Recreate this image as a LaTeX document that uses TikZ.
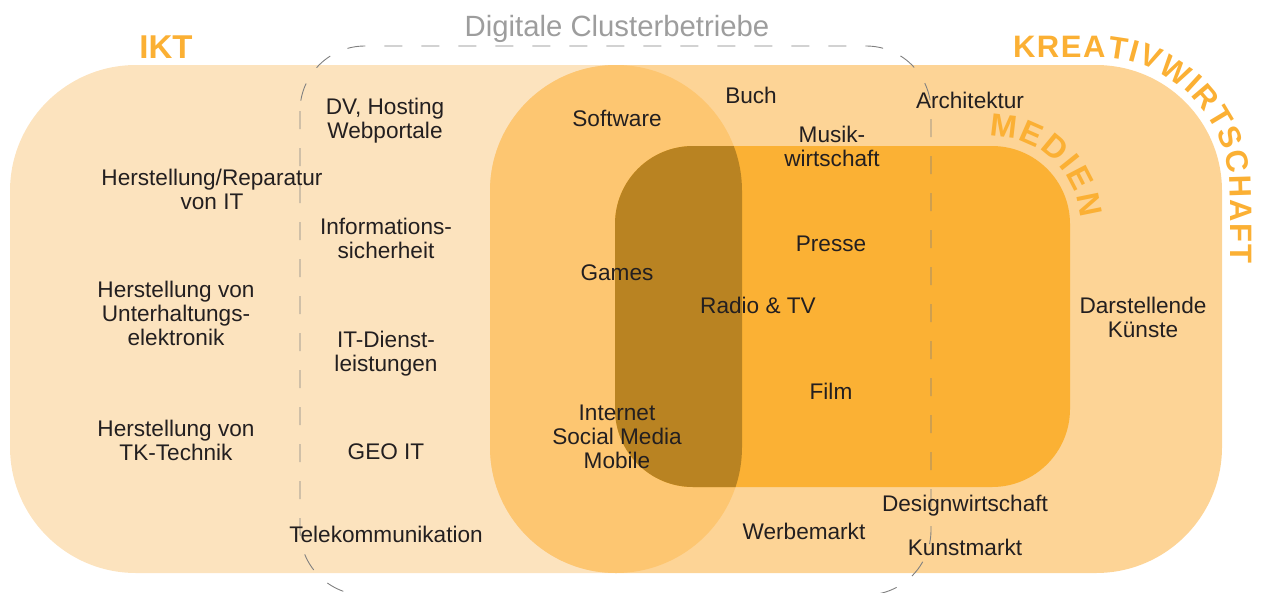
\documentclass[tikz,border=0pt]{standalone}
\usepackage{fontspec}
\setmainfont{Liberation Sans}
\usetikzlibrary{decorations.text}
\definecolor{iktc}{HTML}{FCE3BE}
\definecolor{krc}{HTML}{FDD496}
\definecolor{ovc}{HTML}{FDC671}
\definecolor{medc}{HTML}{FBB134}
\definecolor{darkc}{HTML}{B98322}
\definecolor{orc}{HTML}{FBB034}
\definecolor{dashc}{HTML}{808080}
\definecolor{titc}{HTML}{9D9D9D}
\definecolor{txtc}{HTML}{231F20}
\begin{document}
\begin{tikzpicture}[x=1pt,y=-1pt,
  lbl/.style={font=\fontsize{22.6}{24}\selectfont, text=txtc, align=center, inner sep=0pt},
  head/.style={font=\bfseries\fontsize{33}{33}\selectfont, text=orc, inner sep=0pt},
  clusterline/.style={draw=dashc, line width=0.9pt, dash pattern=on 18pt off 19pt}]
\useasboundingbox (0,0) rectangle (1261,592);
% regions
\fill[iktc, rounded corners=126pt] (10,65) rectangle (742,573);
\fill[krc, rounded corners=126pt] (490,65) rectangle (1222,573);
\fill[ovc] (490,191) -- (490,447) arc[start angle=180,end angle=0,radius=126]
  -- (742,191) arc[start angle=360,end angle=180,radius=126] -- cycle;
\fill[medc, rounded corners=78pt] (615,146) rectangle (1070,487);
\begin{scope}
  \clip (490,191) -- (490,447) arc[start angle=180,end angle=0,radius=126]
    -- (742,191) arc[start angle=360,end angle=180,radius=126] -- cycle;
  \fill[darkc, rounded corners=78pt] (615,146) rectangle (1070,487);
\end{scope}
% digital cluster outline
\draw[clusterline, rounded corners=65pt] (300,46) rectangle (931,595);
\node[font=\fontsize{29.3}{30}\selectfont, text=titc, anchor=base, inner sep=0pt] (title) at (617,36) {Digitale Clusterbetriebe};
% headings
\node[head] (ikt) at (166,47) {IKT};
\path[decorate, decoration={text along path, text color=orc, text align=fit to path,
  text={|\bfseries\fontsize{31}{31}\selectfont|KREATIVWIRTSCHAFT}}]
  (1013,57) -- (1096,57) arc[start angle=270,end angle=360,radius=134] -- (1230,263);
\path[decorate, decoration={text along path, text color=orc, text align=fit to path,
  text={|\bfseries\fontsize{32}{32}\selectfont|MEDIEN}}]
  (989,136) arc[start angle=268,end angle=356,radius=88];
% IKT labels
\node[lbl] (herit) at (212,189) {Herstellung/Reparatur\\von IT};
\node[lbl] (herue) at (176,313) {Herstellung von\\Unterhaltungs-\\elektronik};
\node[lbl] (hertk) at (176,440) {Herstellung von\\TK-Technik};
% cluster labels
\node[lbl] (dv) at (385,121) {DV, Hosting\\Webportale};
\node[lbl] (info) at (386,238) {Informations-\\sicherheit};
\node[lbl] (itd) at (386,354) {IT-Dienst-\\leistungen};
\node[lbl] (geo) at (386,452) {GEO IT};
\node[lbl] (tele) at (386,534) {Telekommunikation};
\node[lbl] (soft) at (617,118) {Software};
\node[lbl] (games) at (617,273) {Games};
\node[lbl] (inet) at (617,437) {Internet\\Social Media\\Mobile};
% Kreativ / Medien labels
\node[lbl] (buch) at (751,95) {Buch};
\node[lbl] (musik) at (832,146) {Musik-\\wirtschaft};
\node[lbl] (presse) at (831,244) {Presse};
\node[lbl] (radio) at (758,305) {Radio \& TV};
\node[lbl] (film) at (831,391) {Film};
\node[lbl] (werbe) at (804,531) {Werbemarkt};
\node[lbl] (archi) at (970,100) {Architektur};
\node[lbl] (design) at (965,506) {Designwirtschaft};
\node[lbl] (kunst) at (965,547) {Kunstmarkt};
\node[lbl] (darst) at (1143,317) {Darstellende\\Künste};
\end{tikzpicture}
\end{document}
